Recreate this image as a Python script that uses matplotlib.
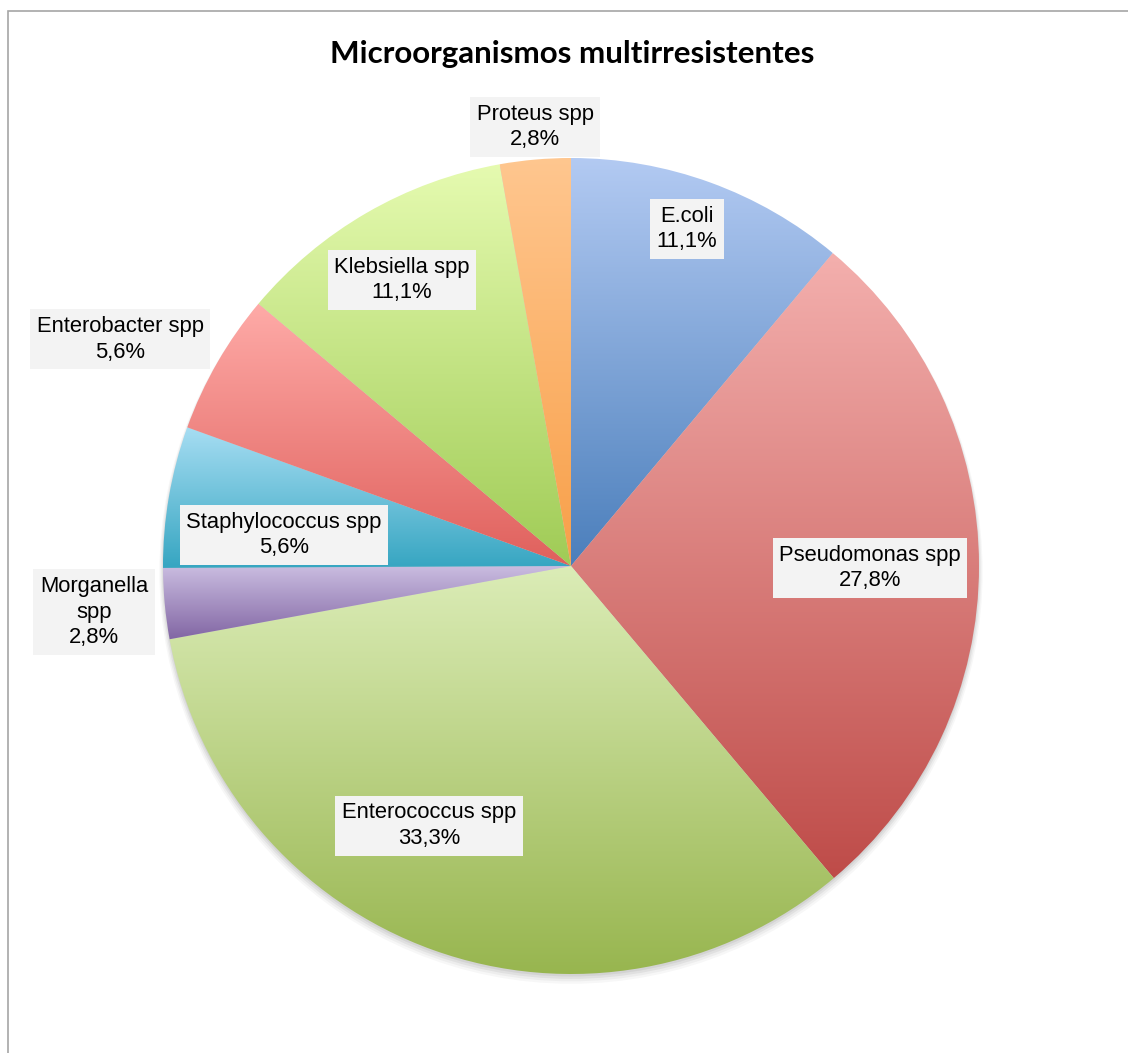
import numpy as np
import matplotlib
matplotlib.use("Agg")
import matplotlib.pyplot as plt
from matplotlib.colors import to_rgb
from matplotlib.patches import Rectangle, Circle

# ---- data ----
categories = ["E.coli", "Pseudomonas spp", "Enterococcus spp", "Morganella\nspp",
              "Staphylococcus spp", "Enterobacter spp", "Klebsiella spp", "Proteus spp"]
percentages = [11.1, 27.8, 33.3, 2.8, 5.6, 5.6, 11.1, 2.8]
title = "Microorganismos multirresistentes"

# gradient colours (top, bottom) per slice
top_colors = ["#b4cbf3", "#f4b0ae", "#dcedb8", "#cfc2e4", "#aadff4", "#ffaca9", "#e6fbb1", "#ffc790"]
bottom_colors = ["#4a7ebb", "#be4b48", "#97b54e", "#7e62a1", "#33a4c0", "#df5f5b", "#9fcb55", "#f89f48"]

# label positions in data coords (pie radius = 1)
label_pos = [(0.284, 0.826), (0.733, -0.005), (-0.348, -0.637), (-1.169, -0.113),
             (-0.703, 0.076), (-1.105, 0.556), (-0.414, 0.701), (-0.088, 1.076)]

W, H = 1128, 1053
fig = plt.figure(figsize=(W / 100, H / 100), dpi=100)
fig.patch.set_facecolor("white")

# chart border
fig.add_artist(Rectangle((8 / W, -0.05), 1.2, 1 - 11 / H + 0.05, transform=fig.transFigure,
                         fill=False, edgecolor="#a6a6a6", linewidth=1.2))

cx, cy, r = 571, 566, 408
lim = 1.1
ax = fig.add_axes([(cx - r * lim) / W, (H - cy - r * lim) / H, 2 * r * lim / W, 2 * r * lim / H])

# soft shadow
for i, a in enumerate([0.06, 0.05, 0.04, 0.03]):
    ax.add_patch(Circle((0, -0.006 - 0.003 * i), 1.0 + 0.003 * i, facecolor="black",
                        edgecolor="none", alpha=a, zorder=0))

wedges, _ = ax.pie(percentages, startangle=90, counterclock=False, radius=1,
                   wedgeprops=dict(facecolor="none", edgecolor="none", linewidth=0))

for w, ct, cb in zip(wedges, top_colors, bottom_colors):
    t1, t2 = np.deg2rad(w.theta1), np.deg2rad(w.theta2)
    th = np.linspace(t1, t2, 200)
    ys = np.concatenate([np.sin(th), [0.0]])
    ymin, ymax = ys.min(), ys.max()
    xs = np.concatenate([np.cos(th), [0.0]])
    xmin, xmax = xs.min(), xs.max()
    n = 256
    f = np.linspace(0, 1, n)[:, None]
    img = (1 - f) * np.array(to_rgb(ct)) + f * np.array(to_rgb(cb))
    img = img[:, None, :]
    im = ax.imshow(img, extent=(xmin - 0.01, xmax + 0.01, ymin - 0.01, ymax + 0.01),
                   origin="upper", aspect="auto", interpolation="bilinear", zorder=1)
    im.set_clip_path(w)
ax.set_xlim(-lim, lim)
ax.set_ylim(-lim, lim)
ax.set_aspect("auto")
ax.axis("off")

for name, val, (x, y) in zip(categories, percentages, label_pos):
    pct = f"{val:.1f}".replace(".", ",")
    txt = f"{name}\n{pct}%"
    ax.text(x, y, txt, ha="center", va="center", fontsize=15.8,
            family=["Liberation Sans", "DejaVu Sans"],
            linespacing=1.3, color="black", zorder=5,
            bbox=dict(boxstyle="square,pad=0.3", facecolor="#f3f3f3", edgecolor="none"))

fig.text(572 / W, 1 - 54 / H, title, ha="center", va="center", fontsize=22.6,
         fontweight="bold", family="Lato")

fig.savefig("out.png", dpi=100)
